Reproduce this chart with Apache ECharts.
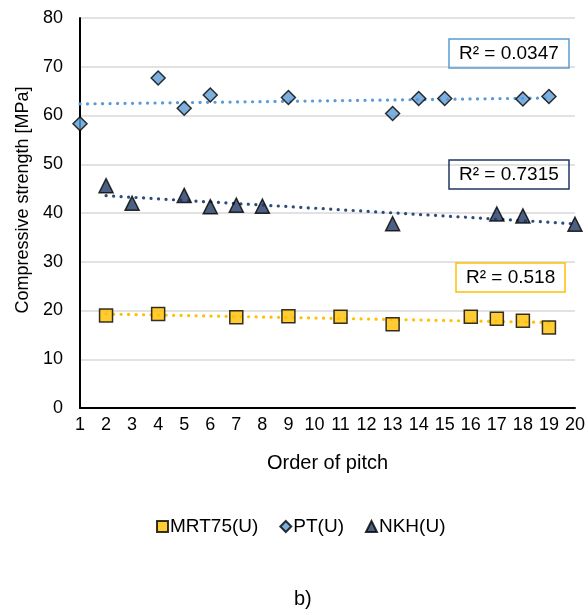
<!DOCTYPE html>
<html>
<head>
<meta charset="utf-8">
<script src="https://cdn.jsdelivr.net/npm/echarts@6/dist/echarts.min.js"></script>
<style>html,body{margin:0;padding:0;background:#fff;}#c{width:588px;height:615px;}</style>
</head>
<body>
<div id="c"></div>
<script>
var mrtX = [2, 4, 7, 9, 11, 13, 16, 17, 18, 19];
var mrtY = [19.0, 19.3, 18.6, 18.8, 18.7, 17.2, 18.7, 18.3, 17.9, 16.5];
var ptX = [1, 4, 5, 6, 9, 13, 14, 15, 18, 19];
var ptY = [58.3, 67.7, 61.5, 64.2, 63.7, 60.4, 63.5, 63.5, 63.4, 63.9];
var nkhX = [2, 3, 5, 6, 7, 8, 13, 17, 18, 20];
var nkhY = [45.6, 42.0, 43.6, 41.3, 41.6, 41.4, 37.8, 39.8, 39.4, 37.7];
var r2Labels = ['R² = 0.0347', 'R² = 0.7315', 'R² = 0.518'];
var seriesNames = ['MRT75(U)', 'PT(U)', 'NKH(U)'];

function pairs(xs, ys) { return xs.map(function (x, i) { return [x, ys[i]]; }); }
function trend(xs, ys) {
  var n = xs.length, sx = 0, sy = 0, sxx = 0, sxy = 0;
  for (var i = 0; i < n; i++) { sx += xs[i]; sy += ys[i]; sxx += xs[i] * xs[i]; sxy += xs[i] * ys[i]; }
  var b = (n * sxy - sx * sy) / (n * sxx - sx * sx);
  var a = (sy - b * sx) / n;
  var x0 = Math.min.apply(null, xs), x1 = Math.max.apply(null, xs);
  return [[x0, a + b * x0], [x1, a + b * x1]];
}

var cMrt = '#FFC000', cPt = '#5B9BD5', cNkh = '#1F3864', cNkhLine = '#2F4B7C';
var font = 'Liberation Sans, Arial, sans-serif';

function trendSeries(xs, ys, color) {
  return {
    type: 'line', data: trend(xs, ys), symbol: 'none', silent: true, z: 1,
    lineStyle: { color: color, width: 3.2, type: [0.1, 7.4], cap: 'round' }
  };
}
function scatterSeries(name, xs, ys, sym, size, color) {
  return {
    name: name, type: 'scatter', data: pairs(xs, ys), symbol: sym, symbolSize: size, z: 5,
    itemStyle: { color: color, borderColor: '#000', borderWidth: 1.5 }
  };
}
var boxText = { fontSize: 19, fontWeight: 'normal', color: '#000', fontFamily: font };

var chart = echarts.init(document.getElementById('c'));
chart.setOption({
  animation: false,
  backgroundColor: '#fff',
  textStyle: { fontFamily: font },
  title: [
    { text: r2Labels[0], left: 449, top: 39, padding: [5, 10, 5, 10], borderColor: cPt, borderWidth: 1.5, textStyle: boxText },
    { text: r2Labels[1], left: 449, top: 160, padding: [5, 10, 5, 10], borderColor: cNkh, borderWidth: 1.5, textStyle: boxText },
    { text: r2Labels[2], left: 456, top: 263, padding: [5, 10, 5, 10], borderColor: cMrt, borderWidth: 1.5, textStyle: boxText },
    { text: 'b)', left: 289, top: 584, textStyle: { fontSize: 20, fontWeight: 'normal', color: '#000', fontFamily: font } }
  ],
  grid: { left: 80, top: 18, right: 9, bottom: 207 },
  legend: {
    data: [{ name: seriesNames[0], icon: 'rect' }, { name: seriesNames[1], icon: 'diamond' }, { name: seriesNames[2], icon: 'triangle' }],
    left: 151, top: 512, itemWidth: 11, itemHeight: 11, itemGap: 21,
    textStyle: { fontSize: 19, color: '#000', fontFamily: font, padding: [0, 0, 0, -3] }
  },
  xAxis: {
    type: 'value', min: 1, max: 20, interval: 1,
    name: 'Order of pitch', nameLocation: 'middle', nameGap: 45,
    nameTextStyle: { fontSize: 20, color: '#000', fontFamily: font },
    axisLine: { lineStyle: { color: '#000', width: 2 } },
    axisTick: { show: false },
    splitLine: { show: false },
    axisLabel: { fontSize: 18, color: '#000', margin: 8, fontFamily: font }
  },
  yAxis: {
    type: 'value', min: 0, max: 80, interval: 10,
    name: 'Compressive strength [MPa]', nameLocation: 'middle', nameGap: 48,
    nameTextStyle: { fontSize: 18, color: '#000', fontFamily: font, padding: [0, 0, 0, 26] },
    axisLine: { show: true, lineStyle: { color: '#000', width: 2 } },
    axisTick: { show: false },
    splitLine: { lineStyle: { color: '#D9D9D9', width: 1.5 } },
    axisLabel: { fontSize: 18, color: '#000', margin: 17, fontFamily: font }
  },
  series: [
    trendSeries(mrtX, mrtY, cMrt),
    trendSeries(ptX, ptY, cPt),
    trendSeries(nkhX, nkhY, cNkhLine),
    scatterSeries(seriesNames[0], mrtX, mrtY, 'rect', 13, cMrt),
    scatterSeries(seriesNames[1], ptX, ptY, 'diamond', 14, cPt),
    scatterSeries(seriesNames[2], nkhX, nkhY, 'triangle', 14, cNkh)
  ]
});
</script>
</body>
</html>
